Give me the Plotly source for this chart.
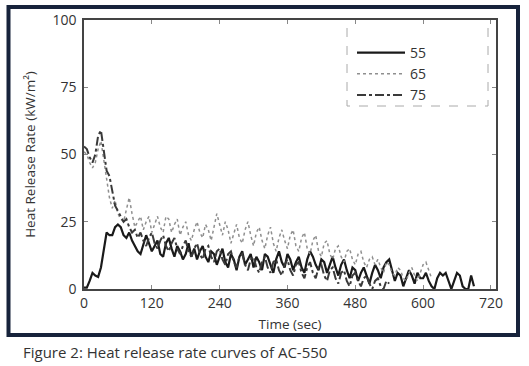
import plotly.graph_objects as go

t55 = list(range(0, 695, 5))
v55 = [0.5, 0.5, 3, 6, 5, 4.5, 8, 15, 21, 20, 20, 23, 24, 23, 20, 19, 21, 18, 16, 14,
       13, 17, 20, 17, 14, 16, 18, 13, 12, 17, 19, 15, 12, 16, 14, 11, 13, 17, 12, 15,
       11, 14, 16, 12, 10, 14, 13, 9, 12, 15, 10, 8, 13, 11, 7, 12, 14, 9, 11, 13,
       8, 12, 10, 7, 13, 12, 9, 6, 11, 14, 10, 8, 13, 11, 7, 10, 12, 8, 6, 11,
       14, 12, 9, 7, 11, 10, 6, 9, 12, 8, 5, 9, 11, 7, 4, 8, 7, 3, 6, 8,
       5, 2, 6, 9, 7, 4, 8, 10, 11, 7, 3, 6, 5, 1, 4, 7, 5, 2, 6, 4,
       4, 6, 3, 1, 0, 4, 6, 5, 6, 3, 0, 3, 6, 5, 1, 0, 0, 5, 1]
t65 = list(range(0, 620, 5))
v65 = [51, 50, 47, 45, 47, 52, 55, 48, 40, 34, 30, 33, 28, 26, 25, 29, 34, 28, 23, 25,
       27, 22, 25, 27, 21, 24, 27, 23, 21, 27, 26, 21, 24, 26, 20, 23, 25, 20, 18, 22,
       25, 21, 19, 24, 22, 18, 23, 28, 24, 20, 25, 22, 17, 21, 24, 19, 17, 22, 25, 20,
       16, 21, 23, 18, 15, 20, 23, 17, 14, 19, 22, 18, 15, 20, 22, 16, 14, 19, 21, 15,
       13, 18, 20, 14, 12, 17, 18, 13, 11, 15, 16, 12, 10, 14, 15, 11, 9, 13, 14, 10,
       8, 11, 12, 9, 11, 8, 6, 10, 9, 6, 5, 8, 7, 4, 3, 6, 8, 5, 3, 6,
       9, 10, 7, 4]
t75 = list(range(0, 545, 5))
v75 = [53, 52, 49, 47, 50, 57, 59, 52, 44, 42, 37, 31, 29, 27, 25, 26, 23, 21, 22, 19,
       21, 18, 16, 19, 21, 17, 15, 18, 20, 16, 14, 17, 19, 15, 13, 16, 18, 14, 12, 15,
       17, 13, 11, 15, 16, 12, 10, 14, 15, 11, 9, 13, 14, 10, 8, 12, 13, 9, 7, 11,
       12, 8, 6, 10, 12, 8, 6, 10, 11, 7, 5, 9, 11, 7, 5, 9, 10, 6, 4, 8,
       10, 6, 4, 8, 9, 5, 3, 7, 8, 4, 2, 6, 7, 3, 1, 5, 6, 3, 1, 4,
       5, 2, 0, 3, 4, 1, 0, 3, 2]

x_ticks = [0, 120, 240, 360, 480, 600, 720]
y_ticks = [0, 25, 50, 75, 100]

FONT = "Open Sans"
TXT = "#333333"

fig = go.Figure()
fig.add_trace(go.Scatter(x=t55, y=v55, name="55", mode="lines",
                         line=dict(color="#1a1a1a", width=2.2)))
fig.add_trace(go.Scatter(x=t65, y=v65, name="65", mode="lines",
                         line=dict(color="#8f8f8f", width=1.5, dash="dot")))
fig.add_trace(go.Scatter(x=t75, y=v75, name="75", mode="lines",
                         line=dict(color="#3a3a3a", width=2, dash="dashdot")))

L, R, T, B = 84, 33, 20, 77
W, H = 529, 366
pw, ph = W - L - R, H - T - B

def px2x(p):
    return (p - L) / pw

def py2y(p):
    return (H - B - p) / ph

lx0, lx1, ly0, ly1 = px2x(347), px2x(488), py2y(106), py2y(28)
shapes = [
    dict(type="rect", xref="paper", yref="paper",
         x0=px2x(8.5), x1=px2x(518), y0=py2y(7), y1=py2y(335),
         line=dict(color="#17233b", width=4), layer="below"),
    dict(type="path", xref="paper", yref="paper",
         path=f"M {lx0},{ly1} L {lx0},{ly0} L {lx1},{ly0} L {lx1},{ly1}",
         line=dict(color="#aaaaaa", width=1, dash="dash")),
]

fig.update_layout(
    width=W, height=H,
    margin=dict(l=L, r=R, t=T, b=B, autoexpand=False),
    paper_bgcolor="white", plot_bgcolor="white",
    font=dict(family=FONT, size=14, color=TXT),
    showlegend=True,
    legend=dict(x=px2x(352), y=py2y(37), xanchor="left", yanchor="top",
                bgcolor="rgba(0,0,0,0)", font=dict(size=14, color=TXT),
                itemwidth=48, tracegroupgap=0),
    shapes=shapes,
    annotations=[dict(text="Figure 2: Heat release rate curves of AC-550",
                      xref="paper", yref="paper", x=px2x(21), y=py2y(352),
                      xanchor="left", yanchor="middle", showarrow=False,
                      font=dict(size=15, color=TXT))],
)
fig.update_xaxes(range=[0, 729], tickvals=x_ticks, ticks="inside", ticklen=4,
                 tickcolor="#888", showline=True, linecolor="#444", linewidth=1.5,
                 mirror="allticks", showgrid=False, zeroline=False, automargin=False,
                 title=dict(text="Time (sec)", standoff=9, font=dict(size=13.5)))
fig.update_yaxes(range=[0, 100], tickvals=y_ticks, ticks="inside", ticklen=4,
                 tickcolor="#888", showline=True, linecolor="#444", linewidth=1.5,
                 mirror="allticks", showgrid=False, zeroline=False, automargin=False,
                 ticklabelstandoff=3,
                 title=dict(text="Heat Release Rate (kW/m²)", standoff=14,
                            font=dict(size=13.5)))

fig.write_html("out.html", post_script="document.body.style.margin='0';",
               config={"displayModeBar": False})
